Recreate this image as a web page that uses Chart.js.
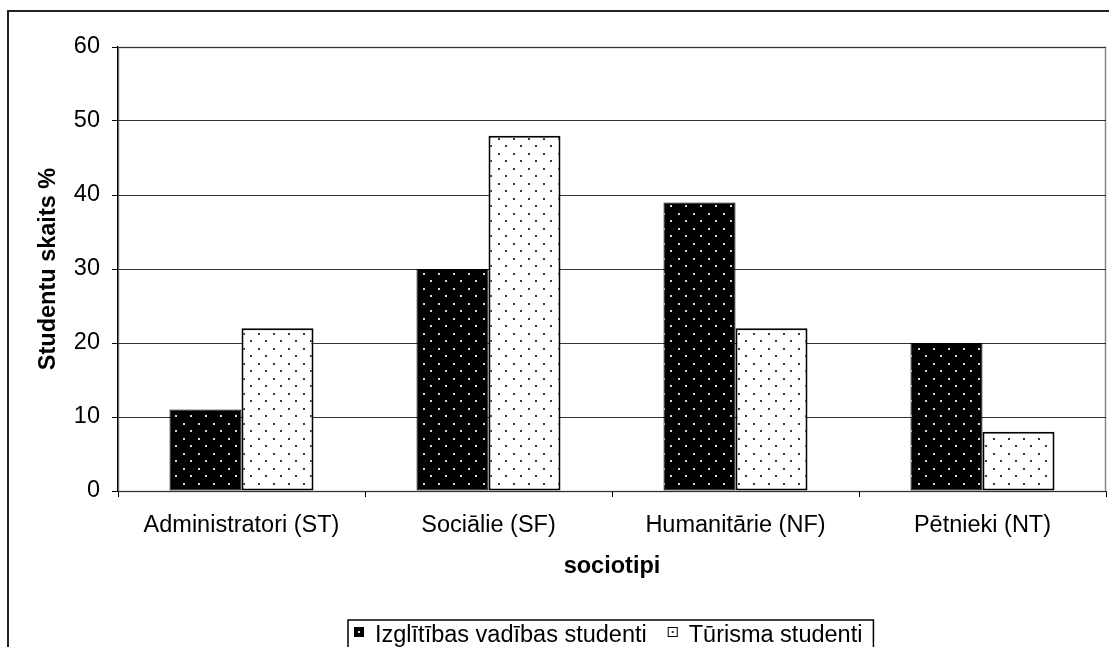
<!DOCTYPE html>
<html><head><meta charset="utf-8">
<script src="https://cdn.jsdelivr.net/npm/chart.js@4/dist/chart.umd.min.js"></script>
<style>html,body{margin:0;padding:0;background:#fff;overflow:hidden}</style>
</head><body>
<canvas id="c" width="1109" height="647"></canvas>
<script>
const categories = ['Administratori (ST)', 'Sociālie (SF)', 'Humanitārie (NF)', 'Pētnieki (NT)'];
const seriesNames = ['Izglītības vadības studenti', 'Tūrisma studenti'];
const izglitibasValues = [11, 30, 39, 20];
const turismaValues = [22, 48, 22, 8];
const yTicks = [0, 10, 20, 30, 40, 50, 60];
const yTitle = 'Studentu skaits %';
const xTitle = 'sociotipi';

const FONT = '"Liberation Sans", Arial, sans-serif';
const FS = 23.5;
const canvas = document.getElementById('c');
const ctx = canvas.getContext('2d');

function makePattern(bg, dot) {
  const t = document.createElement('canvas');
  t.width = 15; t.height = 15;
  const g = t.getContext('2d');
  g.fillStyle = bg; g.fillRect(0, 0, 15, 15);
  g.fillStyle = dot;
  g.fillRect(3, 3, 2, 2);
  g.fillRect(10, 10, 2, 2);
  return ctx.createPattern(t, 'repeat');
}
const darkPattern = makePattern('#000000', '#d8d8d8');
const lightPattern = makePattern('#ffffff', '#383838');

const framePlugin = {
  id: 'frame',
  beforeDraw(chart) {
    const c = chart.ctx, a = chart.chartArea;
    c.save();
    c.fillStyle = '#fff';
    c.fillRect(0, 0, chart.width, chart.height);
    c.strokeStyle = '#222';
    c.lineWidth = 2;
    c.beginPath();
    c.moveTo(8, chart.height);
    c.lineTo(8, 11);
    c.lineTo(chart.width, 11);
    c.stroke();
    c.strokeStyle = '#888';
    c.lineWidth = 1.5;
    c.strokeRect(a.left + 0.5, a.top + 0.5, a.right - a.left - 1, a.bottom - a.top);
    c.restore();
  },
  afterDraw(chart) {
    const c = chart.ctx;
    c.save();
    c.font = FS + 'px ' + FONT;
    c.textBaseline = 'alphabetic';
    const ds = chart.data.datasets;
    const boxL = 348, boxT = 620;
    let x = boxL + 6;
    const markY = 627;
    const textY = 642;
    const items = [];
    ds.forEach((d, i) => {
      items.push({x: x, label: d.label, dark: i === 0});
      const w = c.measureText(d.label).width;
      x += 10 + 11 + w + 21;
    });
    const boxR = x - 10;
    c.strokeStyle = '#000';
    c.lineWidth = 1.5;
    c.beginPath();
    c.moveTo(boxL, chart.height + 2);
    c.lineTo(boxL, boxT);
    c.lineTo(boxR, boxT);
    c.lineTo(boxR, chart.height + 2);
    c.stroke();
    items.forEach(it => {
      if (it.dark) {
        c.fillStyle = '#000';
        c.fillRect(it.x, markY, 10, 10);
        c.fillStyle = '#ddd';
        c.fillRect(it.x + 4, markY + 4, 2, 2);
      } else {
        c.fillStyle = '#fff';
        c.fillRect(it.x, markY, 10, 10);
        c.strokeStyle = '#000';
        c.lineWidth = 1;
        c.strokeRect(it.x + 0.5, markY + 0.5, 9, 9);
        c.fillStyle = '#333';
        c.fillRect(it.x + 4, markY + 4, 2, 2);
      }
      c.fillStyle = '#000';
      c.fillText(it.label, it.x + 21, textY);
    });
    c.restore();
  }
};

Chart.defaults.font.family = FONT;
Chart.defaults.font.size = FS;
Chart.defaults.color = '#000';

new Chart(ctx, {
  type: 'bar',
  data: {
    labels: categories,
    datasets: [
      {
        label: seriesNames[0],
        data: izglitibasValues,
        backgroundColor: darkPattern,
        borderColor: '#000',
        borderWidth: 1,
        borderSkipped: false,
        categoryPercentage: 0.583,
        barPercentage: 1.0
      },
      {
        label: seriesNames[1],
        data: turismaValues,
        backgroundColor: lightPattern,
        borderColor: '#000',
        borderWidth: 2,
        borderSkipped: false,
        categoryPercentage: 0.583,
        barPercentage: 1.0
      }
    ]
  },
  options: {
    responsive: false,
    animation: false,
    devicePixelRatio: 1,
    layout: { padding: { left: 30, top: 47, right: 3, bottom: 66 } },
    plugins: { legend: { display: false }, tooltip: { enabled: false } },
    scales: {
      x: {
        offset: true,
        grid: { offset: true, drawOnChartArea: false, drawTicks: true, tickLength: 6, tickColor: '#000' },
        border: { display: true, color: '#333', width: 1 },
        ticks: { padding: 14, maxRotation: 0, autoSkip: false, font: { size: FS } },
        title: { display: true, text: xTitle, font: { size: FS, weight: 'bold' }, padding: { top: 0, bottom: 0 } },
        afterFit(scale) { scale.height = 90; }
      },
      y: {
        min: 0, max: 60,
        afterBuildTicks(scale) { scale.ticks = yTicks.map(v => ({ value: v })); },
        grid: { color: '#333', lineWidth: 1, tickLength: 6, tickColor: '#000' },
        border: { display: true, color: '#000', width: 1.2 },
        ticks: { padding: 12, font: { size: FS } },
        title: { display: true, text: yTitle, font: { size: FS, weight: 'bold' }, padding: { top: 4, bottom: 0 } },
        afterFit(scale) { scale.width = 88; }
      }
    }
  },
  plugins: [framePlugin]
});
</script>
</body></html>
